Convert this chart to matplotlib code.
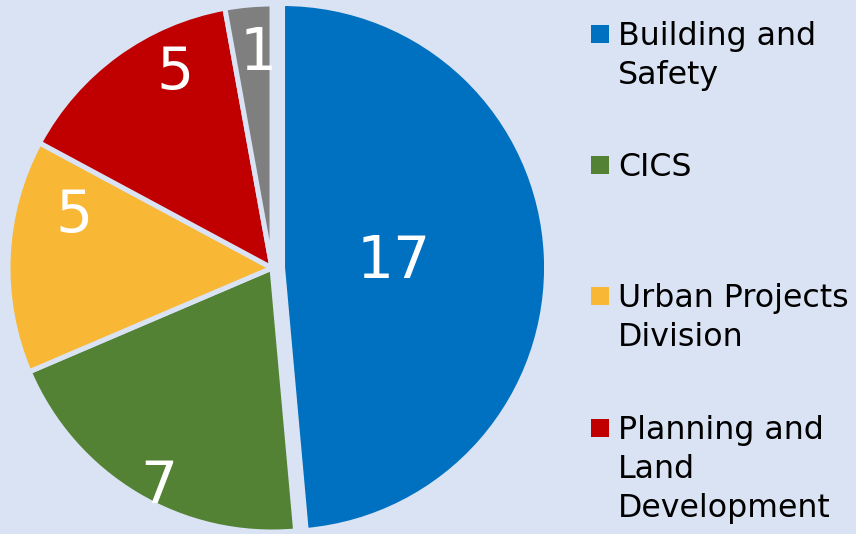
import matplotlib.pyplot as plt
from matplotlib.patches import Rectangle

depts = ['Building and\nSafety', 'CICS', 'Urban Projects\nDivision',
         'Planning and\nLand\nDevelopment', 'Other']
counts = [17, 7, 5, 5, 1]
colors = ['#0070C0', '#548235', '#F8B735', '#C00000', '#7F7F7F']
bg = '#DAE3F3'

# label spots in pie units (Excel put them by hand)
label_xy = [(0.462, 0.023), (-0.427, -0.828), (-0.748, 0.198),
            (-0.366, 0.740), (-0.053, 0.813)]

W, H = 856, 534
fig = plt.figure(figsize=(W / 100, H / 100), dpi=100, facecolor=bg)

cx, cy, R = 272, 268, 264
ax = fig.add_axes([(cx - R) / W, (H - cy - R) / H, 2 * R / W, 2 * R / H])
ax.set_facecolor(bg)
wedges, _ = ax.pie(counts, colors=colors, startangle=90, counterclock=False,
                   explode=[0.04, 0, 0, 0, 0],
                   wedgeprops=dict(edgecolor=bg, linewidth=3.6))
for w in wedges:
    w.set_clip_on(False)
ax.set_xlim(-1, 1)
ax.set_ylim(-1, 1)
ax.set_aspect('auto')
ax.axis('off')

for n, (x, y) in zip(counts, label_xy):
    ax.text(x, y, str(n), ha='center', va='center', fontsize=42, color='white')

# legend, evenly spaced like Excel does it
leg_y = [34, 165, 296, 428]
for name, c, y in zip(depts[:4], colors[:4], leg_y):
    fig.patches.append(Rectangle((591 / W, 1 - (y + 9) / H), 18 / W, 18 / H,
                                 facecolor=c, edgecolor='none',
                                 transform=fig.transFigure))
    fig.text(618 / W, 1 - (y - 13) / H, name, ha='left', va='top',
             fontsize=22.8, linespacing=1.33, color='black')

fig.savefig('out.png', dpi=100, facecolor=bg)
